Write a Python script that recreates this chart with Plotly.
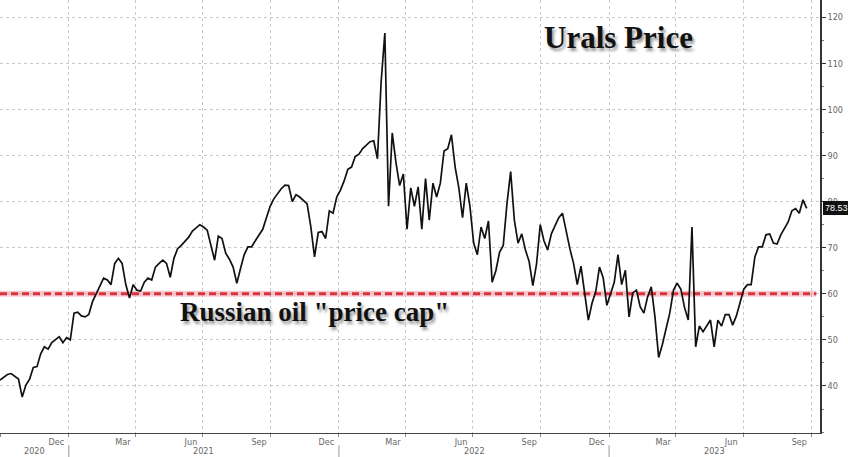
import pandas as pd
import plotly.graph_objects as go

# ---- data ----
series_start = "2020-09-30"
series_step = "5D"
urals_price = [
    41.3, 42.0, 42.5, 42.7, 42.0, 41.5, 37.6, 40.2, 41.5, 44.0,
    44.2, 47.0, 48.5, 48.0, 49.4, 50.0, 50.7, 49.4, 50.5, 50.0,
    55.8, 56.0, 55.2, 55.0, 55.5, 58.3, 60.0, 61.5, 63.4, 63.0,
    62.0, 66.6, 67.7, 66.6, 62.0, 59.1, 62.0, 60.8, 60.6, 62.5,
    63.4, 63.0, 65.8, 66.6, 67.3, 66.6, 63.6, 67.7, 69.8, 70.5,
    71.5, 72.3, 73.6, 74.3, 75.0, 74.5, 73.8, 70.5, 67.3, 72.5,
    72.0, 68.8, 67.5, 65.8, 62.3, 65.5, 68.5, 70.2, 70.2, 71.5,
    72.8, 74.0, 76.5, 79.0, 80.6, 81.7, 82.8, 83.6, 83.5, 80.0,
    81.5, 81.0, 80.2, 79.5, 74.5, 68.0, 73.3, 73.5, 72.0, 78.0,
    77.5, 81.0, 82.5, 84.5, 87.0, 87.5, 89.8, 90.3, 91.5, 92.3,
    93.0, 93.2, 89.3, 106.0, 116.6, 79.0, 94.9, 88.5, 83.5, 86.0,
    74.0, 83.0, 79.0, 83.2, 74.0, 85.0, 76.0, 84.0, 81.0, 84.0,
    91.0, 91.5, 94.5, 87.5, 83.0, 76.5, 84.0, 79.0, 71.0, 68.5,
    74.5, 72.0, 75.8, 62.5, 65.0, 69.0, 70.5, 79.5, 86.5, 76.0,
    71.0, 73.0, 69.5, 67.0, 61.8, 66.5, 75.0, 71.5, 69.5, 73.0,
    74.8, 76.5, 77.5, 73.5, 69.8, 66.6, 62.0, 66.0, 60.0, 54.3,
    58.0, 60.5, 65.8, 63.5, 57.5, 60.2, 62.5, 68.5, 62.0, 65.1,
    55.0, 60.2, 60.8, 57.2, 55.8, 59.3, 61.5, 55.0, 46.2, 49.0,
    52.2, 55.8, 60.8, 62.3, 61.0, 57.0, 54.3, 74.5, 48.5, 53.0,
    51.8, 53.0, 54.3, 48.5, 54.3, 53.0, 55.5, 55.5, 53.2, 55.2,
    58.2, 61.0, 62.0, 62.0, 68.0, 70.2, 70.2, 72.8, 73.0, 71.0,
    70.8, 72.8, 74.2, 75.6, 78.0, 78.5, 77.5, 80.4, 78.53,
]
price_cap = 60
cap_span = ["2020-09-30", "2023-10-08"]
last_label = "78.53"

x_range = ["2020-09-30", "2023-10-13"]
y_range = [29.8, 123.75]
y_ticks = [40, 50, 60, 70, 80, 90, 100, 110, 120]
month_tick_dates = ["2020-12-15", "2021-03-15", "2021-06-15", "2021-09-15",
                    "2021-12-15", "2022-03-15", "2022-06-15", "2022-09-15",
                    "2022-12-15", "2023-03-15", "2023-06-15", "2023-09-15"]
month_tick_text = ["Dec", "Mar", "Jun", "Sep", "Dec", "Mar", "Jun", "Sep",
                   "Dec", "Mar", "Jun", "Sep"]
years = [2020, 2021, 2022, 2023]
title_text = "Urals Price"
cap_text = 'Russian oil "price cap"'

dates = pd.date_range(start=series_start, periods=len(urals_price), freq=series_step)

fig = go.Figure()

# price cap line
fig.add_trace(go.Scatter(
    x=cap_span, y=[price_cap, price_cap], mode="lines",
    line=dict(color="rgba(240,150,160,0.5)", width=6),
    hoverinfo="skip", showlegend=False))
fig.add_trace(go.Scatter(
    x=cap_span, y=[price_cap, price_cap], mode="lines",
    line=dict(color="#d8333f", width=3, dash="7px,4px"),
    hoverinfo="skip", showlegend=False))

# Urals price
fig.add_trace(go.Scatter(
    x=dates, y=urals_price, mode="lines",
    line=dict(color="#111111", width=1.7),
    showlegend=False))

grid_col = "#c9c9c9"
tick_font = dict(family="Liberation Sans Narrow, DejaVu Sans Condensed, Arial, sans-serif",
                 size=9, color="#666666")

fig.update_layout(
    width=848, height=457,
    margin=dict(l=0, r=28, t=0, b=24),
    paper_bgcolor="white", plot_bgcolor="white",
    xaxis=dict(
        range=x_range, type="date",
        tickvals=month_tick_dates, ticktext=month_tick_text,
        ticks="", showgrid=False, zeroline=False,
        showline=True, linecolor="#444444", linewidth=1,
        tickfont=tick_font, ticklabelstandoff=0,
        minor=dict(dtick="M3", tick0="2021-01-01", showgrid=True,
                   gridcolor=grid_col, griddash="dot", gridwidth=1,
                   ticks="outside", ticklen=3, tickcolor="#888888"),
    ),
    yaxis=dict(
        range=y_range, side="right", tickvals=y_ticks,
        ticks="outside", ticklen=4, tickcolor="#333333",
        showgrid=True, gridcolor=grid_col, griddash="dot", gridwidth=1,
        zeroline=False, showline=True, linecolor="#333333", linewidth=1.5,
        tickfont=tick_font, ticklabelstandoff=0,
        minor=dict(dtick=5, ticks="outside", ticklen=2, tickcolor="#777777"),
    ),
)

# title and cap label
fig.add_annotation(
    text=title_text, xref="paper", yref="paper",
    x=618 / 820, y=1 - 38 / 433, xanchor="center", yanchor="middle",
    showarrow=False,
    font=dict(family="Liberation Serif, Times New Roman, serif", size=31,
              color="#111111", weight="bold", shadow="2px 3px 3px #9a9a9a"))
fig.add_annotation(
    text=cap_text, xref="paper", yref="paper",
    x=314 / 820, y=1 - 312 / 433, xanchor="center", yanchor="middle",
    showarrow=False,
    font=dict(family="Liberation Serif, Times New Roman, serif", size=27,
              color="#111111", weight="bold", shadow="2px 3px 3px #9a9a9a"))

# last value label
fig.add_annotation(
    text=last_label, xref="paper", yref="y", x=1, y=urals_price[-1],
    xanchor="left", yanchor="middle", xshift=3, showarrow=False,
    bgcolor="#111111", bordercolor="#111111", borderpad=1,
    font=dict(family="Liberation Sans Narrow, Arial, sans-serif", size=9, color="white"))

# year labels and separators
x0 = pd.Timestamp(x_range[0])
x1 = pd.Timestamp(x_range[1])
for yr in years:
    a = max(pd.Timestamp(f"{yr}-01-01"), x0)
    b = min(pd.Timestamp(f"{yr + 1}-01-01"), x1)
    mid = a + (b - a) / 2
    fig.add_annotation(text=str(yr), xref="x", yref="paper", x=mid, y=-0.042,
                       xanchor="center", yanchor="middle", showarrow=False,
                       font=tick_font)
    if pd.Timestamp(f"{yr}-01-01") > x0:
        fig.add_shape(type="line", xref="x", yref="paper",
                      x0=f"{yr}-01-01", x1=f"{yr}-01-01", y0=-0.028, y1=-0.06,
                      line=dict(color="#999999", width=1))

fig.write_html("out.html",
               config={"displayModeBar": False},
               post_script="document.body.style.margin='0';document.body.style.padding='0';")
